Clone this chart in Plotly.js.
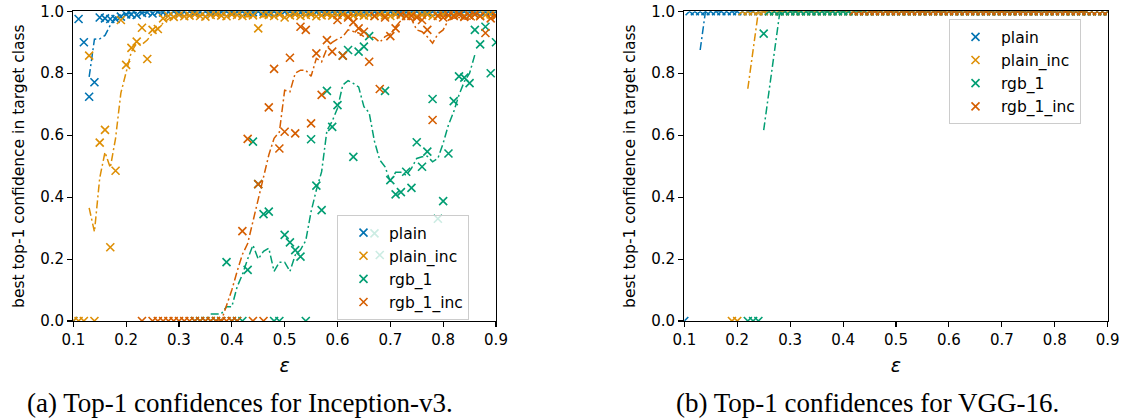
<!DOCTYPE html>
<html>
<head>
<meta charset="utf-8">
<script src="https://cdn.plot.ly/plotly-3.0.1.min.js"></script>
<style>html,body{margin:0;padding:0;background:#fff;}#chart{width:1134px;height:419px;}</style>
</head>
<body>
<div id="chart"></div>
<script>
// epsilon grid
const eps = [0.10,0.11,0.12,0.13,0.14,0.15,0.16,0.17,0.18,0.19,
  0.20,0.21,0.22,0.23,0.24,0.25,0.26,0.27,0.28,0.29,
  0.30,0.31,0.32,0.33,0.34,0.35,0.36,0.37,0.38,0.39,
  0.40,0.41,0.42,0.43,0.44,0.45,0.46,0.47,0.48,0.49,
  0.50,0.51,0.52,0.53,0.54,0.55,0.56,0.57,0.58,0.59,
  0.60,0.61,0.62,0.63,0.64,0.65,0.66,0.67,0.68,0.69,
  0.70,0.71,0.72,0.73,0.74,0.75,0.76,0.77,0.78,0.79,
  0.80,0.81,0.82,0.83,0.84,0.85,0.86,0.87,0.88,0.89,
  0.90];

const seriesNames = ['plain','plain_inc','rgb_1','rgb_1_inc'];
const xTicks = [0.1,0.2,0.3,0.4,0.5,0.6,0.7,0.8,0.9];
const xTickLabels = ['0.1','0.2','0.3','0.4','0.5','0.6','0.7','0.8','0.9'];
const yTicks = [0,0.2,0.4,0.6,0.8,1.0];
const yTickLabels = ['0.0','0.2','0.4','0.6','0.8','1.0'];
const captions = ['(a) Top-1 confidences for Inception-v3.','(b) Top-1 confidences for VGG-16.'];

// ---- Inception-v3: markers ----
const incPlain = [0,0.975,0.90,0.724,0.771,0.98,0.977,0.975,0.975,0.983,
  0.99,0.99,0.988,0.995,0.997,0.993,0.998,0.996,0.998,1.0,
  0.997,0.999,1.0,0.996,0.998,1.0,0.997,0.999,0.998,1.0,
  0.996,0.999,1.0,0.998,0.997,1.0,0.999,0.998,1.0,0.997,
  0.999,1.0,0.998,0.996,1.0,0.999,0.998,1.0,0.997,0.999,
  1.0,0.998,0.999,1.0,0.997,0.998,1.0,0.999,0.998,1.0,
  0.999,0.997,1.0,0.998,0.999,1.0,0.998,0.997,1.0,0.999,
  0.998,1.0,0.999,0.997,1.0,0.998,0.999,1.0,0.998,0.999,
  1.0];
const incPlainInc = [0,0,0,0.857,0,0.576,0.617,0.238,0.485,0.972,
  0.827,0.882,0.902,0.947,0.846,0.94,0.943,0.977,0.985,0.982,
  0.988,0.984,0.986,0.99,0.985,0.983,0.988,0.99,0.986,0.984,
  0.99,0.988,0.985,0.99,0.987,0.945,0.99,0.988,0.985,0.99,
  0.98,0.987,0.99,0.985,0.988,0.99,0.984,0.987,0.99,0.986,
  0.988,0.99,0.985,0.987,0.99,0.986,0.988,0.985,0.99,0.987,
  0.985,0.99,0.988,0.986,0.99,0.984,0.988,0.99,0.985,0.987,
  0.99,0.986,0.988,0.99,0.985,0.987,0.99,0.986,0.988,0.99,
  0.987];
const incRgb1 = [null,null,null,null,null,null,null,null,null,null,
  null,null,null,null,null,null,null,null,null,null,
  null,null,null,0,0,0,0,0,0,0.19,
  0,0,0,0.165,0.579,0.442,0.345,0.353,0,0,
  0.278,0.254,0.229,0.208,0,0.587,0.437,0.358,0.743,0.627,
  0.697,0.857,0.875,0.53,0.87,0.886,0.92,0.283,0.213,0.743,
  0.455,0.409,0.416,0.482,0.43,0.577,0.498,0.547,0.717,0.33,
  0.387,0.541,0.71,0.79,0.786,0.768,0.94,0.893,0.95,0.80,
  0.90];
const incRgb1Inc = [null,null,null,null,null,null,null,null,null,null,
  null,null,null,0,null,0,0,0,0,0,
  0,0,0,0,0,0,0,0,0,0,
  0,0,0.29,0.588,0,0.442,0,0.69,0.814,0.557,
  0.611,0.85,0.606,0.95,0.94,0.638,0.864,0.73,0.907,0.87,
  0.972,0.857,0.98,0.965,0.945,0.934,0.837,0.985,0.749,0.98,
  0.92,0.945,0.99,0.985,0.985,0.98,0.972,0.94,0.649,0.985,
  0.98,0.988,0.985,0.99,0.982,0.986,0.99,0.984,0.93,0.977,
  0.985];

// ---- Inception-v3: smoothed curves ----
const incPlainLine = [null,null,null,0.788,0.91,0.911,0.922,0.955,0.982,0.988,
  0.992,0.994,0.996,0.997,0.998,0.998,0.998,0.998,0.998,0.998,
  0.998,0.998,0.998,0.998,0.998,0.998,0.998,0.998,0.998,0.998,
  0.998,0.998,0.998,0.998,0.998,0.998,0.998,0.998,0.998,0.998,
  0.998,0.998,0.998,0.998,0.998,0.998,0.998,0.998,0.998,0.998,
  0.998,0.998,0.998,0.998,0.998,0.998,0.998,0.998,0.998,0.998,
  0.998,0.998,0.998,0.998,0.998,0.998,0.998,0.998,0.998,0.998,
  0.998,0.998,0.998,0.998,0.998,0.998,0.998,null,null,null,
  null];
const incPlainIncLine = [null,null,null,0.365,0.288,0.462,0.545,0.495,0.59,0.736,
  0.805,0.87,0.897,0.893,0.907,0.93,0.945,0.962,0.975,0.982,
  0.985,0.986,0.987,0.987,0.987,0.987,0.987,0.987,0.987,0.987,
  0.987,0.987,0.982,0.982,0.982,0.982,0.982,0.982,0.982,0.987,
  0.987,0.987,0.987,0.987,0.987,0.987,0.987,0.987,0.987,0.987,
  0.987,0.987,0.987,0.987,0.987,0.987,0.987,0.987,0.987,0.987,
  0.988,0.988,0.988,0.988,0.988,0.988,0.988,0.988,0.988,0.988,
  0.988,0.988,0.988,0.988,0.988,0.988,0.988,null,null,null,
  null];
const incRgb1Line = [null,null,null,null,null,null,null,null,null,null,
  null,null,null,null,null,null,null,null,null,null,
  null,null,null,null,null,null,0.023,0.023,0.023,0.046,
  0.046,0.11,0.15,0.20,0.245,0.20,0.225,0.235,0.16,0.19,
  0.19,0.16,0.213,0.23,0.26,0.353,0.423,0.482,0.615,0.645,
  0.687,0.762,0.776,0.767,0.756,0.692,0.672,0.58,0.52,0.498,
  0.45,0.48,0.48,0.471,0.493,0.525,0.53,0.532,0.514,0.525,
  0.574,0.633,0.676,0.73,0.773,0.80,0.86,null,null,null,
  null];
const incRgb1IncLine = [null,null,null,null,null,null,null,null,null,null,
  null,null,null,null,null,null,null,null,null,null,
  null,null,null,null,null,null,null,0,0,0.05,
  0.10,0.16,0.215,0.25,0.32,0.40,0.46,0.536,0.59,0.61,
  0.745,0.74,0.80,0.81,0.81,0.79,0.848,0.837,0.88,0.90,
  0.91,0.918,0.94,0.935,0.93,0.918,0.918,0.915,0.90,0.918,
  0.927,0.95,0.97,0.975,0.975,0.94,0.934,0.918,0.897,0.927,
  0.94,0.972,0.978,0.98,0.975,0.975,0.972,null,null,null,
  null];

// ---- VGG-16: markers ----
const vggPlain = [0,1,1,1,1,1,1,1,1,1,
  1,1,1,1,1,1,1,1,1,1,
  1,1,1,1,1,1,1,1,1,1,
  1,1,1,1,1,1,1,1,1,1,
  1,1,1,1,1,1,1,1,1,1,
  1,1,1,1,1,1,1,1,1,1,
  1,1,1,1,1,1,1,1,1,1,
  1,1,1,1,1,1,1,1,1,1,
  1];
const vggPlainInc = [null,null,null,null,null,null,null,null,null,0,
  0,1,1,1,1,1,1,1,1,1,
  1,1,1,1,1,1,1,1,1,1,
  1,1,1,1,1,1,1,1,1,1,
  1,1,1,1,1,1,1,1,1,1,
  1,1,1,1,1,1,1,1,1,1,
  1,1,1,1,1,1,1,1,1,1,
  1,1,1,1,1,1,1,1,1,1,
  1];
const vggRgb1 = [null,null,null,null,null,null,null,null,null,null,
  null,null,0,0,0,0.928,1,1,1,1,
  1,1,1,1,1,1,1,1,1,1,
  1,1,1,1,1,1,1,1,1,1,
  1,1,1,1,1,1,1,1,1,1,
  1,1,1,1,1,1,1,1,1,1,
  1,1,1,1,1,1,1,1,1,1,
  1,1,1,1,1,1,1,1,1,1,
  1];
const vggRgb1Inc = [null,null,null,null,null,null,null,null,null,null,
  null,null,null,null,null,null,null,null,null,null,
  null,null,null,null,null,null,null,null,null,null,
  null,null,1,1,1,1,1,1,1,1,
  1,1,1,1,1,1,1,1,1,1,
  1,1,1,1,1,1,1,1,1,1,
  1,1,1,1,1,1,1,1,1,1,
  1,1,1,1,1,1,1,1,1,1,
  1];

// ---- VGG-16: smoothed curves ----
const vggPlainLine = [null,null,null,0.875,1,1,1,1,1,1,
  1,1,1,1,1,1,1,1,1,1,
  1,1,1,1,1,1,1,1,1,1,
  1,1,1,1,1,1,1,1,1,1,
  1,1,1,1,1,1,1,1,1,1,
  1,1,1,1,1,1,1,1,1,1,
  1,1,1,1,1,1,1,1,1,1,
  1,1,1,1,1,1,1,null,null,null,
  null];
const vggPlainIncLine = [null,null,null,null,null,null,null,null,null,null,
  null,null,0.75,0.875,1,1,1,1,1,1,
  1,1,1,1,1,1,1,1,1,1,
  1,1,1,1,1,1,1,1,1,1,
  1,1,1,1,1,1,1,1,1,1,
  1,1,1,1,1,1,1,1,1,1,
  1,1,1,1,1,1,1,1,1,1,
  1,1,1,1,1,1,1,null,null,null,
  null];
const vggRgb1Line = [null,null,null,null,null,null,null,null,null,null,
  null,null,null,null,null,0.616,0.741,0.866,0.991,1,
  1,1,1,1,1,1,1,1,1,1,
  1,1,1,1,1,1,1,1,1,1,
  1,1,1,1,1,1,1,1,1,1,
  1,1,1,1,1,1,1,1,1,1,
  1,1,1,1,1,1,1,1,1,1,
  1,1,1,1,1,1,1,null,null,null,
  null];
const vggRgb1IncLine = [null,null,null,null,null,null,null,null,null,null,
  null,null,null,null,null,null,null,null,null,null,
  null,null,null,null,null,null,null,null,null,null,
  null,null,null,null,null,1,1,1,1,1,
  1,1,1,1,1,1,1,1,1,1,
  1,1,1,1,1,1,1,1,1,1,
  1,1,1,1,1,1,1,1,1,1,
  1,1,1,1,1,1,1,null,null,null,
  null];

const colors = ['#0173b2','#de8f05','#029e73','#d55e00'];

const panels = [
  {xa:'x', ya:'y', legend:'legend', marks:[incPlain,incPlainInc,incRgb1,incRgb1Inc],
   lines:[incPlainLine,incPlainIncLine,incRgb1Line,incRgb1IncLine]},
  {xa:'x2', ya:'y2', legend:'legend2', marks:[vggPlain,vggPlainInc,vggRgb1,vggRgb1Inc],
   lines:[vggPlainLine,vggPlainIncLine,vggRgb1Line,vggRgb1IncLine]}
];

const traces = [];
panels.forEach((p, pi) => {
  seriesNames.forEach((name, i) => {
    traces.push({
      x: eps, y: p.marks[i], type:'scatter', mode:'markers', name: name,
      xaxis: p.xa, yaxis: p.ya, legend: p.legend, legendgroup: 'g'+pi+'_'+i,
      marker: {symbol:'x-thin', size:8, color: colors[i], line:{width:1.6, color: colors[i]}},
      hoverinfo:'x+y+name'
    });
    traces.push({
      x: eps, y: p.lines[i], type:'scatter', mode:'lines', name: name,
      xaxis: p.xa, yaxis: p.ya, legend: p.legend, legendgroup: 'g'+pi+'_'+i,
      showlegend:false, connectgaps:false,
      line: {color: colors[i], width:1.5, dash:'8px,3px,2px,3px'},
      hoverinfo:'skip'
    });
  });
});

const W = 1134, H = 419;
const axCommon = {
  showline:true, mirror:true, linecolor:'#000', linewidth:1.2,
  ticks:'outside', ticklen:5, tickwidth:1.1, tickcolor:'#000',
  showgrid:false, zeroline:false, tickfont:{size:15, color:'#000'}
};
const yDom = [(H-321)/H, (H-11.3)/H];
const xaxisBase = Object.assign({}, axCommon, {range:[0.1,0.9], tickvals:xTicks, ticktext:xTickLabels,
  title:{text:'<i>ε</i>', font:{size:19}, standoff:10}});
const yaxisBase = Object.assign({}, axCommon, {range:[0,1.0], tickvals:yTicks, ticktext:yTickLabels,
  title:{text:'best top-1 confidence in target class', font:{size:15.5}, standoff:11}});

const legendCommon = {
  bgcolor:'rgba(255,255,255,0.8)', bordercolor:'#cccccc', borderwidth:1,
  font:{size:15.5, color:'#000'}, xanchor:'left', yanchor:'top',
  traceorder:'grouped', tracegroupgap:0, itemwidth:41
};

const layout = {
  width:W, height:H, margin:{l:0,r:0,t:0,b:0},
  paper_bgcolor:'#fff', plot_bgcolor:'#fff',
  font:{family:'DejaVu Sans', color:'#000'},
  xaxis: Object.assign({}, xaxisBase, {domain:[73.3/W, 496/W], anchor:'y'}),
  yaxis: Object.assign({}, yaxisBase, {domain:yDom, anchor:'x'}),
  xaxis2: Object.assign({}, xaxisBase, {domain:[684.3/W, 1107.7/W], anchor:'y2'}),
  yaxis2: Object.assign({}, yaxisBase, {domain:yDom, anchor:'x2'}),
  legend: Object.assign({}, legendCommon, {x:337/W, y:(H-215)/H}),
  legend2: Object.assign({}, legendCommon, {x:949/W, y:(H-19.3)/H}),
  annotations: [
    {text:captions[0], x:240/W, y:(H-403)/H, xref:'paper', yref:'paper', showarrow:false,
     xanchor:'center', yanchor:'middle', font:{family:'Liberation Serif', size:27, color:'#000'}},
    {text:captions[1], x:867.5/W, y:(H-403)/H, xref:'paper', yref:'paper', showarrow:false,
     xanchor:'center', yanchor:'middle', font:{family:'Liberation Serif', size:27, color:'#000'}}
  ]
};

Plotly.newPlot('chart', traces, layout, {displayModeBar:false, staticPlot:true});
</script>
</body>
</html>
